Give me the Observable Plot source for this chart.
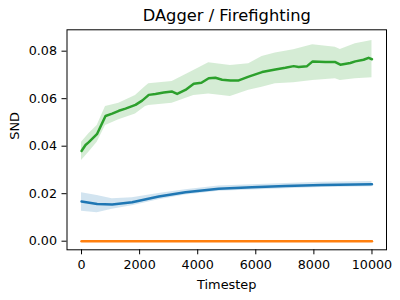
<!DOCTYPE html>
<html>
<head>
<meta charset="utf-8">
<script src="https://cdn.jsdelivr.net/npm/d3@7"></script>
<script src="https://cdn.jsdelivr.net/npm/@observablehq/plot@0.6"></script>
<style>
  html, body { margin: 0; padding: 0; background: white; }
  #chart { width: 400px; height: 300px; }
</style>
</head>
<body>
<div id="chart"></div>
<script>
// ---- data ----
const title = "DAgger / Firefighting";
const xLabel = "Timestep";
const yLabel = "SND";
const xTicks = [0, 2000, 4000, 6000, 8000, 10000];
const yTicks = [0.00, 0.02, 0.04, 0.06, 0.08];

// green series (mean)
const greenT = [0, 138, 252, 539, 826, 1055, 1284, 1514, 1858, 2087, 2316, 2546, 2832, 3120, 3292, 3578, 3864, 4128, 4379, 4610, 4840, 5126, 5412, 5756, 6216, 6674, 7018, 7304, 7476, 7764, 7958, 8394, 8738, 8910, 9254, 9426, 9711, 9883, 10000];
const greenV = [0.0380, 0.0405, 0.0417, 0.0452, 0.0527, 0.0537, 0.0549, 0.0558, 0.0574, 0.0592, 0.0616, 0.0620, 0.0626, 0.0630, 0.0620, 0.0637, 0.0663, 0.0667, 0.0686, 0.0688, 0.0680, 0.0677, 0.0677, 0.0693, 0.0712, 0.0723, 0.0730, 0.0737, 0.0733, 0.0737, 0.0757, 0.0754, 0.0754, 0.0743, 0.0750, 0.0757, 0.0764, 0.0772, 0.0766];
// green band
const greenBandT = [0, 252, 539, 826, 1284, 1858, 2202, 2316, 3120, 3864, 4379, 5126, 5756, 6216, 6674, 7304, 7958, 8738, 8910, 9426, 10000];
const greenLo = [0.0340, 0.0375, 0.0417, 0.0487, 0.0511, 0.0536, 0.0567, 0.0571, 0.0581, 0.0613, 0.0620, 0.0609, 0.0635, 0.0648, 0.0663, 0.0667, 0.0677, 0.0684, 0.0677, 0.0684, 0.0688];
const greenHi = [0.0417, 0.0452, 0.0487, 0.0567, 0.0581, 0.0613, 0.0651, 0.0663, 0.0672, 0.0719, 0.0751, 0.0740, 0.0747, 0.0778, 0.0792, 0.0806, 0.0827, 0.0817, 0.0807, 0.0831, 0.0845];

// blue series
const blueT = [0, 539, 1055, 1743, 2660, 3578, 4724, 5871, 7018, 8279, 10000];
const blueV = [0.0167, 0.0157, 0.0155, 0.0164, 0.0188, 0.0206, 0.0221, 0.0227, 0.0232, 0.0237, 0.0240];
const blueLo = [0.0126, 0.0120, 0.0134, 0.0149, 0.0175, 0.0195, 0.0210, 0.0216, 0.0221, 0.0226, 0.0229];
const blueHi = [0.0204, 0.0192, 0.0179, 0.0183, 0.0201, 0.0217, 0.0232, 0.0238, 0.0243, 0.0248, 0.0251];

// orange series
const orangeT = [0, 10000];
const orangeV = [0, 0];

const colors = {blue: "#1f77b4", orange: "#ff7f0e", green: "#2ca02c"};

// ---- tables ----
const green = greenT.map((t, i) => ({t, v: greenV[i]}));
const greenBand = greenBandT.map((t, i) => ({t, lo: greenLo[i], hi: greenHi[i]}));
const blue = blueT.map((t, i) => ({t, v: blueV[i], lo: blueLo[i], hi: blueHi[i]}));
const orange = orangeT.map((t, i) => ({t, v: orangeV[i]}));

const chart = Plot.plot({
  width: 400,
  height: 300,
  marginLeft: 66.5,
  marginRight: 14,
  marginTop: 29.3,
  marginBottom: 50.7,
  style: {fontFamily: "DejaVu Sans", fontSize: "12.7px", color: "black", background: "white"},
  x: {domain: [-500, 10500]},
  y: {domain: [-0.00362, 0.0890]},
  marks: [
    Plot.areaY(blue, {x: "t", y1: "lo", y2: "hi", fill: colors.blue, fillOpacity: 0.2}),
    Plot.lineY(blue, {x: "t", y: "v", stroke: colors.blue, strokeWidth: 2.5}),
    Plot.lineY(orange, {x: "t", y: "v", stroke: colors.orange, strokeWidth: 2.5}),
    Plot.areaY(greenBand, {x: "t", y1: "lo", y2: "hi", fill: colors.green, fillOpacity: 0.2}),
    Plot.lineY(green, {x: "t", y: "v", stroke: colors.green, strokeWidth: 2.5}),
    Plot.frame({stroke: "black", strokeWidth: 1}),
    Plot.axisX({ticks: xTicks, tickFormat: d3.format("d"), tickSize: 5, tickPadding: 5, label: null}),
    Plot.axisY({ticks: yTicks, tickFormat: d3.format(".2f"), tickSize: 5, tickPadding: 5, label: null}),
    Plot.text([title], {frameAnchor: "top", dy: -8.6, lineAnchor: "bottom", fontSize: 16.3, fill: "black"}),
    Plot.text([xLabel], {frameAnchor: "bottom", dy: 39.3, lineAnchor: "bottom", fontSize: 12.9, fill: "black"}),
    Plot.text([yLabel], {frameAnchor: "left", dx: -52.3, rotate: -90, lineAnchor: "middle", fontSize: 12.9, fill: "black"})
  ]
});
document.getElementById("chart").appendChild(chart);
</script>
</body>
</html>
